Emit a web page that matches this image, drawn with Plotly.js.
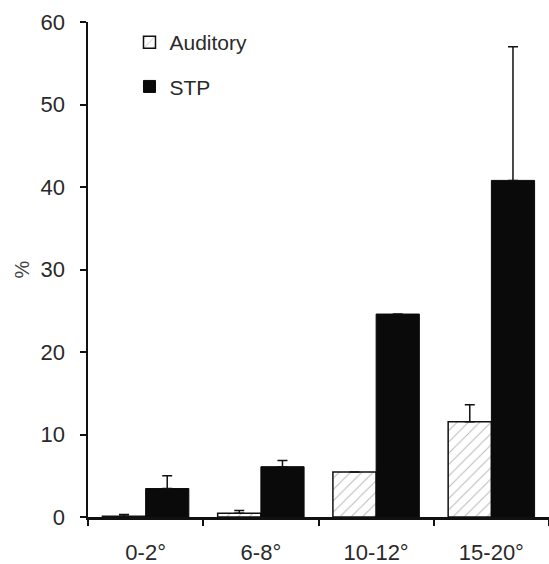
<!DOCTYPE html>
<html>
<head>
<meta charset="utf-8">
<script src="https://cdn.plot.ly/plotly-3.0.1.min.js"></script>
<style>html,body{margin:0;padding:0;background:#fff;}#chart{width:549px;height:564px;}</style>
</head>
<body>
<div id="chart"></div>
<script>
var categories = ["0-2°", "6-8°", "10-12°", "15-20°"];
var auditoryValues = [0.1, 0.45, 5.45, 11.55];
var auditoryErrors = [0.2, 0.35, null, 2.05];
var stpValues = [3.45, 6.1, 24.6, 40.8];
var stpErrors = [1.55, 0.75, null, 16.2];
var seriesNames = ["Auditory", "STP"];
var yTicks = [0, 10, 20, 30, 40, 50, 60];

var fontFam = "Liberation Sans, Arial, sans-serif";
var txtColor = "#2a2a2a";

var traces = [
  {
    type: "bar", name: seriesNames[0], x: categories, y: auditoryValues,
    legendgroup: "a",
    marker: {color: "#ffffff", line: {color: "#111", width: 1.5},
             pattern: {shape: "/", fgcolor: "#b8b8b8", bgcolor: "#ffffff", size: 8, solidity: 0.12}},
    error_y: {type: "data", array: auditoryErrors, arrayminus: [0,0,0,0], symmetric: false,
              color: "#111", thickness: 1.5, width: 5}
  },
  {
    type: "bar", name: seriesNames[1], x: categories, y: stpValues,
    legendgroup: "b",
    marker: {color: "#0a0a0a", line: {color: "#0a0a0a", width: 1}},
    error_y: {type: "data", array: stpErrors, arrayminus: [0,0,0,0], symmetric: false,
              color: "#111", thickness: 1.5, width: 5}
  }
];

var layout = {
  width: 549, height: 564,
  margin: {l: 88, r: 0, t: 22, b: 47},
  paper_bgcolor: "#fff", plot_bgcolor: "#fff",
  font: {family: fontFam, size: 22, color: txtColor},
  barmode: "group", bargap: 0.25, bargroupgap: 0,
  showlegend: true,
  legend: {x: 0.09, y: 1.0, xanchor: "left", yanchor: "top", bgcolor: "rgba(0,0,0,0)",
           font: {family: fontFam, size: 21, color: txtColor}, tracegroupgap: 14, itemwidth: 30},
  xaxis: {
    type: "category", tickson: "boundaries", ticks: "outside", ticklen: 6, tickwidth: 2,
    tickcolor: "#111", showline: true, linecolor: "#111", linewidth: 2.5,
    showgrid: false, zeroline: false, ticklabelstandoff: 14,
    tickfont: {family: fontFam, size: 22, color: txtColor}, fixedrange: true
  },
  yaxis: {
    range: [0, 60], tickvals: yTicks, ticks: "outside", ticklen: 6, tickwidth: 2,
    tickcolor: "#111", showline: true, linecolor: "#111", linewidth: 2.5,
    showgrid: false, zeroline: false, ticklabelstandoff: 10,
    tickfont: {family: fontFam, size: 22, color: txtColor},
    title: {text: "%", font: {family: fontFam, size: 20, color: "#444"}, standoff: 6}
  }
};

Plotly.newPlot("chart", traces, layout, {displayModeBar: false, staticPlot: true});
</script>
</body>
</html>
